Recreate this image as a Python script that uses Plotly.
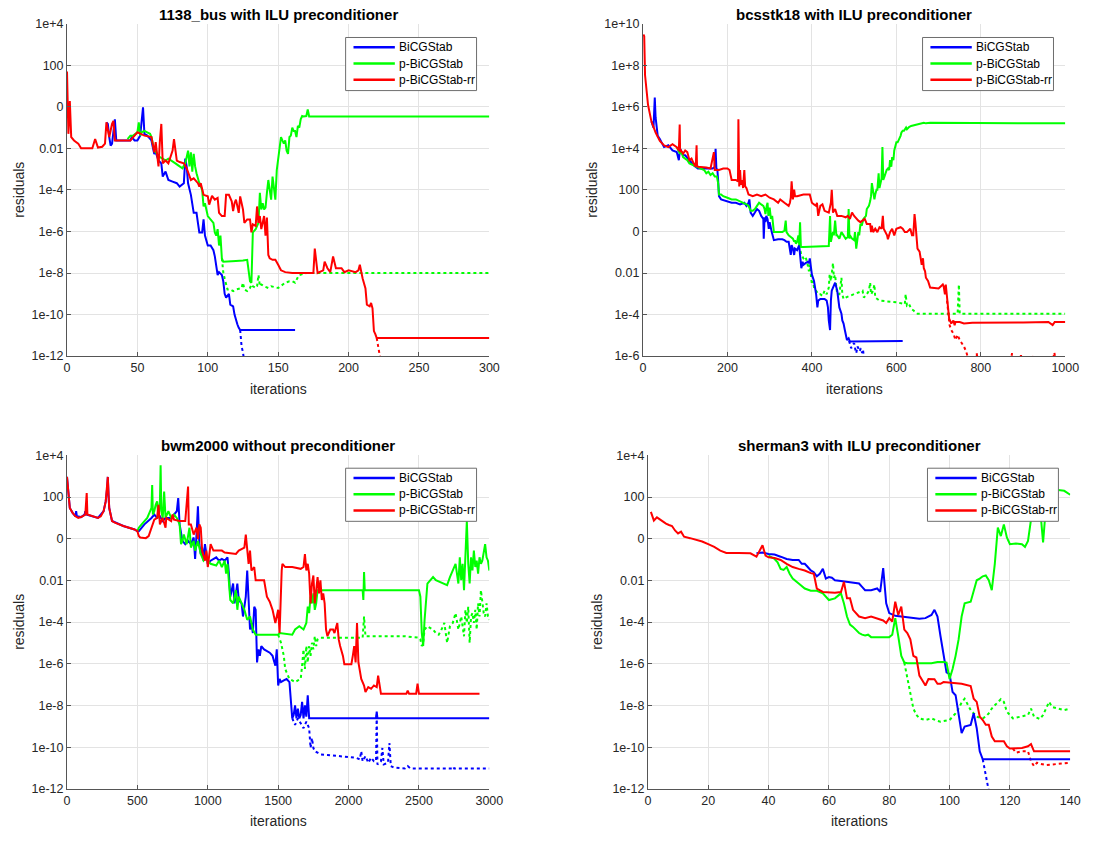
import plotly.graph_objects as go

# ---------------- Panel 1: 1138_bus with ILU preconditioner ----------------
bus_blue_x = [28, 29, 30, 31, 32, 33, 34, 35, 45, 46, 48, 50, 52, 54, 55, 57, 60, 61, 62, 63, 65, 67, 68, 70, 72, 75, 78, 80, 82, 83, 84, 85, 86, 88, 90, 92, 93, 94, 96, 97, 98, 100, 102, 104, 105, 106, 107, 108, 110, 111, 112, 113, 115, 116, 118, 119, 120, 121, 122, 123, 162]
bus_blue_y = [0.18, 0.15, 0.035, 0.0135, 0.017, 0.1, 0.25, 0.024, 0.024, 0.035, 0.024, 0.024, 0.041, 0.95, 0.05, 0.041, 0.024, 0.011, 0.0054, 0.0065, 0.0026, 0.0019, 4.4e-4, 7.6e-4, 3e-4, 2.5e-4, 2.1e-4, 1.45e-4, 1.8e-4, 2.1e-4, 0.0032, 0.00135, 2.1e-4, 5.8e-5, 7.9e-6, 7.9e-6, 2.6e-6, 9e-7, 9e-7, 3.8e-6, 6.3e-7, 2.1e-7, 2.1e-7, 1.25e-7, 6.3e-8, 2.5e-8, 8e-9, 1.1e-8, 8e-9, 4e-9, 1e-9, 6.6e-10, 1e-9, 3e-10, 2.5e-10, 1e-10, 4.9e-11, 3.4e-11, 2.3e-11, 1.8e-11, 1.8e-11]
bus_blue_dot_x = [123, 124, 125, 126]
bus_blue_dot_y = [1.8e-11, 3e-12, 1.5e-12, 5e-13]

bus_green_x = [43, 45, 47, 50, 51, 52, 53, 55, 57, 59, 60, 62, 64, 66, 68, 70, 72, 75, 77, 80, 82, 84, 86, 87, 88, 89, 90, 91, 92, 94, 96, 97, 98, 100, 102, 104, 105, 106, 107, 108, 109, 110, 111, 115, 120, 125, 128, 130, 131, 132, 134, 136, 137, 138, 139, 140, 141, 142, 143, 144, 145, 146, 147, 148, 149, 150, 151, 152, 153, 154, 155, 156, 157, 158, 159, 160, 161, 162, 163, 164, 165, 166, 167, 168, 170, 171, 172, 300]
bus_green_y = [0.028, 0.041, 0.041, 0.059, 0.18, 0.041, 0.059, 0.069, 0.059, 0.05, 0.035, 0.0078, 0.0054, 0.0038, 0.0032, 0.0026, 0.0032, 0.0022, 0.0019, 0.00135, 0.0011, 0.0019, 0.0078, 0.00135, 0.0065, 7.6e-4, 0.0054, 0.00135, 6.3e-4, 2.1e-4, 1e-4, 1.6e-5, 2.3e-5, 5.5e-6, 3.8e-6, 2.6e-6, 9e-7, 6.3e-7, 1.3e-6, 2.1e-7, 6.3e-7, 5.1e-8, 3.5e-8, 3.5e-8, 3.8e-8, 4e-8, 4.3e-8, 4e-9, 3.4e-9, 9e-7, 1.3e-6, 2.6e-6, 7.2e-5, 1.15e-5, 2.3e-5, 1.15e-5, 1.4e-5, 7.2e-5, 3e-4, 1e-4, 3.4e-5, 4.4e-4, 1e-4, 3.4e-5, 9e-4, 0.0038, 0.017, 0.035, 0.024, 0.017, 0.024, 0.0078, 0.0054, 0.035, 0.041, 0.1, 0.069, 0.069, 0.035, 0.12, 0.1, 0.25, 0.36, 0.34, 0.36, 0.74, 0.34, 0.34]
bus_green_dot_x = [110, 111, 112, 113, 114, 116, 118, 120, 124, 125, 126, 128, 130, 131, 132, 134, 135, 136, 137, 138, 140, 143, 145, 150, 153, 155, 158, 160, 162, 163, 164, 165, 167, 170, 300]
bus_green_dot_y = [5.1e-8, 1.1e-8, 5.4e-9, 2.8e-9, 1.6e-9, 1.6e-9, 1.35e-9, 1.6e-9, 1.9e-9, 3.4e-9, 1.6e-9, 1.35e-9, 1.9e-9, 2.8e-9, 2.3e-9, 1.9e-9, 2.3e-9, 8e-9, 2.3e-9, 2.8e-9, 2.3e-9, 1.9e-9, 2.3e-9, 1.9e-9, 2.8e-9, 3.4e-9, 4e-9, 4e-9, 3.4e-9, 4.9e-9, 6.3e-9, 8e-9, 9e-9, 1e-8, 1e-8]

bus_red_x = [0, 1, 2, 3, 5, 7, 8, 10, 18, 20, 22, 25, 27, 28, 30, 32, 33, 34, 40, 45, 50, 55, 60, 62, 63, 65, 66, 67, 68, 70, 72, 75, 76, 78, 80, 83, 85, 88, 90, 93, 94, 95, 97, 100, 101, 103, 105, 107, 108, 110, 112, 113, 115, 117, 118, 119, 120, 122, 123, 125, 126, 128, 130, 131, 132, 134, 135, 136, 137, 138, 139, 140, 141, 142, 143, 144, 146, 148, 150, 152, 155, 160, 175, 176, 178, 182, 183, 185, 187, 189, 191, 195, 197, 200, 205, 207, 208, 209, 210, 212, 213, 215, 216, 217, 218, 219, 220, 300]
bus_red_y = [50, 0.05, 1.9, 0.035, 0.024, 0.02, 0.017, 0.01, 0.01, 0.028, 0.011, 0.012, 0.017, 0.18, 0.035, 0.15, 0.21, 0.024, 0.024, 0.024, 0.059, 0.041, 0.035, 0.0065, 0.02, 0.00135, 0.024, 0.15, 0.0019, 0.0026, 0.0019, 0.0078, 0.028, 0.0026, 0.0022, 0.0019, 0.0011, 3e-4, 3.6e-4, 2.1e-4, 1.45e-4, 2.1e-4, 5.8e-5, 4.9e-5, 1.95e-5, 5.2e-5, 3.4e-5, 4.1e-5, 7.9e-6, 5.5e-6, 5.5e-6, 5.8e-5, 5.8e-5, 2.8e-5, 9.5e-6, 2.3e-5, 3.4e-5, 7.9e-6, 4.9e-5, 1.15e-5, 2.6e-6, 3.8e-6, 3.8e-6, 9e-7, 2.2e-6, 1.85e-6, 1.6e-5, 2.6e-6, 5.5e-6, 1.3e-6, 2.6e-6, 5.5e-6, 6.3e-7, 4.7e-6, 7.4e-8, 5.1e-8, 4.3e-8, 4.3e-8, 2.5e-8, 1.35e-8, 1.1e-8, 1e-8, 1e-8, 1.5e-7, 1e-8, 1.35e-8, 3.5e-8, 1.7e-8, 1.1e-8, 6.3e-8, 1.7e-8, 1.7e-8, 1.1e-8, 1.35e-8, 1.1e-8, 1.35e-8, 2.5e-8, 9e-9, 5.4e-9, 1.8e-9, 3e-10, 2.5e-10, 3.6e-10, 2e-10, 1.6e-11, 1.15e-11, 7.4e-12, 7.4e-12]
bus_red_dot_x = [220, 221, 222, 223]
bus_red_dot_y = [7.4e-12, 2.7e-12, 1e-12, 5e-13]

# ---------------- Panel 2: bcsstk18 with ILU preconditioner ----------------
bcs_blue_x = [20, 25, 28, 30, 35, 40, 50, 60, 70, 80, 85, 87, 90, 95, 100, 110, 120, 130, 165, 170, 172, 174, 176, 178, 180, 185, 190, 200, 210, 220, 230, 240, 245, 250, 252, 255, 260, 265, 270, 275, 280, 285, 286, 288, 290, 292, 295, 298, 300, 305, 310, 320, 330, 335, 340, 345, 348, 350, 352, 355, 358, 360, 365, 370, 372, 375, 378, 380, 385, 390, 393, 395, 398, 400, 405, 410, 413, 415, 420, 430, 435, 438, 440, 443, 445, 447, 450, 455, 458, 460, 465, 470, 472, 475, 478, 480, 483, 487, 490, 615]
bcs_blue_y = [2e5, 1e5, 2.8e6, 3e5, 4e4, 2.8e4, 1.15e4, 1.4e4, 7.9e3, 6.6e3, 2.7e3, 6.6e3, 7.9e3, 4.6e3, 4.6e3, 2.7e3, 1.55e3, 1.07e3, 1.07e3, 1.3e3, 9.5e3, 910, 1.07e3, 300, 50, 35, 32, 29, 24, 24, 20, 24, 17, 24, 35, 8.1, 5.6, 8.1, 12, 9.8, 5.6, 4, 0.45, 4.8, 2.8, 5.6, 4, 1.35, 2.8, 0.93, 0.38, 0.42, 0.42, 0.38, 0.32, 0.32, 0.15, 0.074, 0.22, 0.15, 0.074, 0.15, 0.126, 0.22, 0.074, 0.017, 0.035, 0.025, 0.03, 0.035, 0.03, 0.051, 0.017, 0.0083, 0.0041, 9.5e-4, 2.2e-4, 4.7e-4, 5.6e-4, 5.6e-4, 4.7e-4, 2.2e-4, 5.2e-5, 1.8e-5, 4.7e-4, 0.0014, 0.002, 0.0034, 0.002, 0.0014, 2.2e-4, 1.1e-4, 5.2e-5, 3.7e-5, 1.8e-5, 1.23e-5, 6e-6, 7.2e-6, 5e-6, 5.4e-6]
bcs_blue_dot_x = [488, 490, 493, 497, 500, 503, 505, 508, 510, 513, 516, 519, 521, 524]
bcs_blue_dot_y = [5.4e-6, 4.2e-6, 2.4e-6, 3.5e-6, 4.2e-6, 2e-6, 1.4e-6, 2.9e-6, 2.4e-6, 1.7e-6, 2.4e-6, 1.4e-6, 2e-6, 7e-7]

bcs_green_x = [80, 88, 90, 95, 100, 105, 110, 120, 130, 140, 145, 150, 155, 160, 165, 170, 175, 178, 180, 185, 190, 200, 210, 220, 230, 240, 245, 250, 255, 260, 265, 270, 275, 280, 285, 288, 290, 293, 295, 297, 300, 303, 306, 310, 320, 330, 335, 338, 340, 345, 350, 355, 358, 360, 362, 365, 368, 370, 372, 374, 380, 440, 443, 445, 448, 450, 452, 455, 458, 460, 465, 470, 475, 480, 485, 487, 489, 490, 495, 500, 502, 505, 508, 510, 512, 515, 518, 520, 522, 525, 528, 530, 535, 538, 540, 542, 545, 548, 550, 553, 555, 558, 560, 562, 565, 567, 569, 572, 575, 577, 580, 583, 585, 588, 590, 593, 595, 598, 600, 603, 605, 608, 610, 612, 615, 618, 620, 623, 625, 628, 630, 635, 645, 650, 660, 665, 670, 680, 1000]
bcs_green_y = [1.15e4, 5.5e3, 7.9e3, 3.8e3, 3.2e3, 2.7e3, 1.9e3, 1.55e3, 1.3e3, 1.07e3, 910, 630, 760, 525, 630, 440, 440, 214, 60, 60, 50, 42, 35, 35, 29, 24, 20, 17, 9.8, 9.8, 12, 17, 24, 20, 17, 12, 6.8, 17, 24, 5.6, 14, 4, 5.6, 0.93, 0.93, 0.93, 1.1, 3.3, 0.93, 0.65, 0.54, 0.45, 0.32, 0.38, 0.26, 0.32, 0.65, 0.22, 2.8, 0.18, 0.18, 0.2, 5.6, 0.32, 0.65, 0.93, 0.65, 3.3, 0.65, 0.65, 0.45, 0.93, 0.65, 0.45, 0.54, 12, 0.45, 0.65, 0.45, 0.38, 0.93, 0.15, 0.45, 0.93, 0.65, 2.3, 1.9, 2.8, 4, 4.8, 5.6, 12, 17, 29, 50, 214, 60, 35, 60, 102, 102, 630, 123, 178, 360, 1.15e4, 300, 440, 760, 910, 1.07e3, 910, 2.7e3, 1.3e3, 3.8e3, 2.7e3, 7.9e3, 1.6e4, 1.95e4, 1.95e4, 2.3e4, 3.4e4, 4e4, 5.8e4, 7e4, 7e4, 8.3e4, 1e5, 8.3e4, 1e5, 1.07e5, 1.2e5, 1.35e5, 1.4e5, 1.5e5, 1.7e5, 1.6e5, 1.7e5, 1.6e5]
bcs_green_dot_x = [370, 375, 380, 385, 390, 393, 395, 398, 400, 403, 405, 410, 415, 420, 425, 430, 435, 440, 442, 445, 448, 450, 452, 455, 458, 460, 465, 470, 472, 475, 480, 520, 523, 530, 535, 538, 540, 545, 548, 550, 555, 560, 600, 620, 622, 625, 630, 635, 640, 645, 650, 745, 748, 750, 1000]
bcs_green_dot_y = [0.22, 0.074, 0.051, 0.062, 0.025, 0.012, 0.025, 0.0059, 0.0028, 0.0041, 0.002, 0.0014, 9.5e-4, 9.5e-4, 7.9e-4, 0.0014, 9.5e-4, 0.002, 0.0083, 0.0041, 0.017, 0.03, 0.0059, 0.0083, 0.002, 9.5e-4, 9.5e-4, 0.0059, 9.5e-4, 5.6e-4, 6.6e-4, 0.0014, 6.6e-4, 9.5e-4, 0.0014, 0.0034, 9.5e-4, 0.0014, 0.0028, 6.6e-4, 5.6e-4, 4.7e-4, 3.9e-4, 3.2e-4, 9.5e-4, 2.7e-4, 3.2e-4, 1.9e-4, 1.6e-4, 1.3e-4, 1.1e-4, 1.1e-4, 0.0028, 1.1e-4, 1.1e-4]

bcs_red_x = [1, 3, 5, 8, 12, 20, 30, 40, 50, 60, 70, 80, 85, 87, 88, 90, 95, 100, 105, 110, 115, 120, 125, 127, 128, 130, 140, 150, 160, 168, 170, 180, 190, 200, 205, 210, 220, 225, 226, 227, 228, 230, 232, 235, 237, 240, 242, 245, 250, 260, 270, 280, 290, 300, 310, 320, 325, 335, 340, 345, 348, 350, 352, 355, 358, 360, 365, 380, 395, 400, 405, 410, 412, 415, 420, 425, 430, 440, 445, 447, 450, 455, 460, 470, 480, 485, 490, 495, 500, 505, 510, 515, 520, 525, 530, 538, 540, 542, 545, 550, 555, 560, 565, 568, 570, 575, 578, 580, 585, 590, 595, 600, 610, 615, 620, 625, 633, 637, 640, 642, 643, 645, 647, 650, 655, 660, 663, 665, 668, 670, 675, 678, 680, 700, 705, 710, 712, 715, 717, 720, 722, 725, 730, 735, 738, 740, 750, 760, 780, 850, 900, 960, 970, 975, 1000]
bcs_red_y = [3e9, 2.5e9, 3.3e7, 7.8e6, 1.26e6, 2e5, 5.8e4, 2.3e4, 1.4e4, 1.15e4, 1.6e4, 1.15e4, 7.9e3, 1.4e5, 6.6e3, 7.9e3, 5.5e3, 7.9e3, 6.6e3, 2.7e3, 3.2e3, 1.9e3, 1.3e3, 1.4e4, 1.55e3, 1.3e3, 1.3e3, 1.2e3, 1.07e3, 6.6e3, 910, 910, 1.07e3, 1.07e3, 910, 300, 300, 257, 2.5e5, 214, 148, 910, 178, 300, 123, 910, 148, 123, 60, 50, 60, 50, 60, 42, 35, 24, 35, 24, 20, 17, 24, 42, 257, 35, 102, 50, 50, 60, 60, 24, 20, 17, 24, 5.6, 17, 20, 9.8, 8.1, 24, 102, 8.1, 12, 5.6, 5.6, 4.8, 5.6, 4, 8.1, 5.6, 4, 3.3, 2.8, 3.3, 4, 2.3, 2.3, 0.93, 1.9, 0.93, 1.35, 0.93, 1.6, 1.35, 5.6, 1.35, 0.93, 0.65, 0.42, 0.93, 1.35, 0.65, 1.35, 1.6, 1.35, 0.93, 0.93, 1.35, 0.65, 0.65, 2.8, 6.8, 2.8, 0.65, 0.15, 0.107, 0.025, 0.051, 0.017, 0.012, 0.0059, 0.0041, 0.0023, 0.002, 0.0018, 0.0023, 0.0028, 0.0023, 9.5e-4, 0.0028, 4.7e-4, 1.6e-4, 6.3e-5, 3.7e-5, 5.2e-5, 3.1e-5, 4.4e-5, 4.4e-5, 3.7e-5, 4e-5, 4e-5, 4.2e-5, 4.4e-5, 3.1e-5, 4.4e-5, 4.4e-5]
bcs_red_dot_x = [720, 722, 726, 730, 735, 740, 745, 750, 755, 760, 765, 770, 780, 786, 790, 794, 870, 874, 878, 891, 895, 899, 917, 921, 925, 970, 974, 978, 1000]
bcs_red_dot_y = [4.7e-4, 1.6e-4, 3.1e-5, 1.8e-5, 1.23e-5, 6e-6, 1.05e-5, 6e-6, 4.2e-6, 2.9e-6, 1.7e-6, 8e-7, 5e-7, 5e-7, 1.4e-6, 5e-7, 5e-7, 1.4e-6, 5e-7, 5e-7, 1.1e-6, 5e-7, 5e-7, 1.1e-6, 5e-7, 5e-7, 1.5e-6, 5e-7, 5e-7]

# ---------------- Panel 3: bwm2000 without preconditioner ----------------
bwm_blue_x = [0, 10, 20, 40, 60, 65, 70, 100, 125, 130, 135, 180, 220, 260, 275, 285, 290, 295, 300, 320, 400, 480, 500, 510, 550, 600, 620, 640, 660, 680, 700, 740, 760, 780, 790, 800, 820, 840, 860, 880, 900, 910, 920, 930, 940, 950, 960, 970, 980, 1000, 1020, 1060, 1080, 1100, 1120, 1140, 1150, 1160, 1170, 1180, 1190, 1200, 1210, 1220, 1240, 1250, 1260, 1270, 1280, 1290, 1300, 1310, 1320, 1330, 1340, 1350, 1360, 1370, 1380, 1400, 1440, 1460, 1480, 1490, 1500, 1510, 1520, 1540, 1560, 1580, 1590, 1600, 1610, 1620, 1630, 1640, 1650, 1660, 1670, 1680, 1690, 1700, 1710, 1720, 2195, 2200, 2205, 3000]
bwm_blue_y = [930, 185, 30, 17.5, 12, 21, 12, 11, 14.5, 21, 14.5, 12, 10, 21, 62, 260, 930, 130, 30, 7.1, 4.1, 2.8, 2.3, 2.3, 4.9, 10, 14.5, 10, 12, 7.1, 10, 10, 14.5, 21, 89, 4.9, 0.79, 0.55, 0.79, 0.55, 1.15, 0.107, 1.6, 36, 0.55, 0.186, 0.38, 0.089, 0.55, 0.063, 0.089, 0.129, 0.089, 0.107, 0.089, 0.129, 0.021, 0.00166, 0.0034, 0.0071, 7.9e-4, 0.0024, 0.0071, 0.00115, 7.9e-4, 1.86e-4, 5.5e-4, 0.00166, 0.03, 3.9e-4, 4.4e-5, 9.1e-5, 3e-5, 5.5e-4, 3.9e-4, 1.15e-6, 4.9e-6, 2.4e-6, 7.1e-6, 4.9e-6, 3.4e-6, 2.4e-6, 8.1e-7, 4.9e-6, 9.1e-8, 1.86e-7, 1.32e-7, 1.58e-7, 1.86e-7, 1.32e-7, 2.1e-8, 2.4e-9, 3.5e-9, 1.02e-8, 2.4e-9, 7.1e-9, 2.4e-9, 3.5e-9, 1.48e-8, 2.4e-9, 1.02e-8, 2.9e-9, 3.1e-8, 2.4e-9, 2.4e-9, 5e-9, 2.4e-9, 2.4e-9]
bwm_blue_dot_x = [1600, 1610, 1620, 1640, 1660, 1680, 1700, 1720, 1730, 1740, 1750, 1760, 1780, 1800, 1850, 1950, 2050, 2080, 2090, 2100, 2120, 2140, 2160, 2180, 2195, 2200, 2205, 2230, 2240, 2250, 2280, 2290, 2300, 2320, 2400, 2420, 2440, 2740, 2745, 2750, 3000]
bwm_blue_dot_y = [2.4e-9, 1.66e-9, 1.17e-9, 2.4e-9, 1.38e-9, 8.1e-10, 1.66e-9, 8.1e-10, 9.1e-11, 2.7e-10, 9.1e-11, 6.3e-11, 5.4e-11, 4.5e-11, 4.2e-11, 3.7e-11, 3.1e-11, 2.6e-11, 6.3e-11, 2.1e-11, 3.7e-11, 1.78e-11, 3.1e-11, 2.1e-11, 2.1e-11, 4.2e-9, 1.48e-11, 2.1e-11, 9.1e-11, 1.48e-11, 1.78e-11, 1.58e-10, 1.23e-11, 1.05e-11, 9.5e-12, 1.23e-11, 9.5e-12, 9.3e-12, 1.1e-11, 9.3e-12, 9.3e-12]

bwm_green_x = [500, 510, 530, 550, 570, 600, 605, 610, 620, 630, 640, 650, 660, 665, 670, 680, 690, 700, 720, 740, 760, 780, 800, 810, 820, 830, 850, 870, 880, 900, 910, 930, 950, 970, 990, 1000, 1020, 1060, 1080, 1100, 1120, 1130, 1140, 1160, 1180, 1200, 1210, 1220, 1240, 1260, 1280, 1300, 1320, 1340, 1500, 1510, 1600, 1620, 1650, 1680, 1700, 1710, 1720, 1730, 1740, 1750, 1760, 1770, 1780, 2100, 2105, 2110, 2115, 2500, 2510, 2520, 2530, 2540, 2560, 2580, 2600, 2620, 2650, 2680, 2700, 2720, 2740, 2760, 2780, 2790, 2800, 2810, 2820, 2830, 2840, 2850, 2860, 2870, 2880, 2890, 2900, 2910, 2920, 2930, 2940, 2950, 2960, 2970, 2980, 2990, 3000]
bwm_green_y = [2.3, 3.4, 4.9, 7.1, 10, 30, 380, 14.5, 21, 43, 62, 10, 62, 3400, 21, 10, 185, 10, 21, 10, 14.5, 10, 4.9, 0.55, 0.79, 1.6, 0.55, 3.4, 0.38, 0.79, 0.27, 0.79, 0.186, 0.089, 0.129, 0.089, 0.063, 0.052, 0.089, 0.044, 0.089, 0.021, 0.063, 0.00115, 7.9e-4, 0.0034, 3.9e-4, 0.00166, 7.9e-4, 3.9e-4, 1.29e-4, 1.86e-4, 4.4e-5, 2.5e-5, 2.5e-5, 3e-5, 2.5e-5, 4.4e-5, 6.3e-5, 4.4e-5, 9.1e-5, 5.5e-4, 2.7e-4, 0.00166, 7.9e-4, 0.0024, 3.9e-4, 7.9e-4, 0.0034, 0.0034, 0.00115, 0.025, 0.0034, 0.0034, 0.00166, 3e-5, 7.1e-6, 1.29e-4, 0.0071, 0.0102, 0.0145, 0.0102, 0.0085, 0.0071, 0.006, 0.0145, 0.03, 0.063, 0.0071, 0.129, 0.0102, 0.063, 0.0034, 0.55, 7.1, 0.063, 0.0071, 0.129, 0.03, 0.27, 0.044, 0.089, 0.021, 0.129, 0.063, 0.089, 0.27, 0.55, 0.129, 0.089, 0.03]
bwm_green_dot_x = [1500, 1520, 1540, 1550, 1560, 1580, 1600, 1620, 1640, 1660, 1670, 1680, 1690, 1700, 1710, 1720, 1730, 1740, 1750, 1760, 1770, 1780, 1800, 2100, 2110, 2120, 2400, 2500, 2510, 2520, 2530, 2540, 2560, 2600, 2620, 2640, 2660, 2680, 2700, 2720, 2740, 2760, 2780, 2800, 2820, 2830, 2840, 2850, 2860, 2870, 2880, 2890, 2900, 2910, 2920, 2930, 2940, 2950, 2960, 2970, 2980, 2990, 3000]
bwm_green_dot_y = [2.5e-5, 1.02e-5, 2.4e-6, 5.6e-7, 3.9e-7, 1.86e-7, 1.58e-7, 1.32e-7, 1.58e-7, 1.86e-7, 8.1e-7, 4.9e-6, 5.6e-7, 7.1e-6, 1.15e-6, 7.1e-6, 2.4e-6, 1.02e-5, 4.9e-6, 2.1e-5, 7.1e-6, 1.48e-5, 1.78e-5, 1.78e-5, 1.86e-4, 2.1e-5, 2.1e-5, 1.78e-5, 1.48e-5, 7.1e-6, 1.02e-5, 4.4e-5, 6.3e-5, 4.4e-5, 3e-5, 2.5e-5, 4.4e-5, 9.1e-5, 1.02e-5, 6.3e-5, 9.1e-5, 2.7e-4, 4.4e-5, 1.86e-4, 2.1e-5, 3.9e-4, 9.1e-5, 5.5e-4, 1.02e-5, 1.86e-4, 2.7e-4, 9.1e-5, 3.9e-4, 4.4e-5, 7.9e-4, 1.86e-4, 0.0034, 7.9e-4, 2.7e-4, 1.86e-4, 7.9e-4, 1.86e-4, 1.29e-4]

bwm_red_x = [0, 10, 20, 40, 60, 80, 100, 130, 140, 145, 180, 220, 240, 260, 275, 285, 290, 295, 300, 320, 340, 400, 440, 480, 500, 510, 520, 560, 580, 600, 610, 620, 640, 650, 660, 680, 700, 705, 740, 750, 760, 800, 840, 850, 860, 865, 880, 900, 920, 930, 940, 950, 960, 980, 990, 1000, 1010, 1020, 1040, 1100, 1120, 1200, 1220, 1260, 1270, 1280, 1290, 1300, 1310, 1330, 1340, 1400, 1410, 1420, 1440, 1460, 1480, 1500, 1510, 1515, 1525, 1530, 1550, 1600, 1660, 1680, 1690, 1700, 1710, 1720, 1730, 1740, 1750, 1760, 1770, 1780, 1790, 1800, 1810, 1820, 1830, 1840, 1850, 1870, 1890, 1900, 1920, 1930, 1940, 1960, 1970, 2020, 2030, 2040, 2050, 2060, 2070, 2080, 2090, 2110, 2120, 2140, 2160, 2180, 2200, 2210, 2220, 2230, 2410, 2420, 2430, 2480, 2490, 2500, 2930]
bwm_red_y = [930, 185, 30, 17.5, 12, 10, 11, 14.5, 155, 14.5, 12, 10, 12, 21, 62, 260, 930, 130, 30, 7.1, 5.9, 4.1, 3.4, 2.8, 2.3, 1.35, 1.15, 1.07, 1.35, 3.4, 5.9, 8.3, 10, 43, 4.9, 10, 3.4, 10, 7.1, 14.5, 8.3, 7.1, 7.1, 36, 320, 4.9, 4.9, 1.6, 3.4, 0.96, 4.9, 3.4, 0.27, 0.089, 0.27, 0.044, 0.186, 0.55, 0.27, 0.27, 0.22, 0.186, 0.27, 0.38, 1.6, 0.186, 0.063, 0.27, 0.03, 0.044, 0.0102, 0.0102, 0.0049, 0.00166, 9.5e-4, 3.9e-4, 9.1e-5, 3.9e-4, 3e-5, 7.9e-4, 0.03, 0.063, 0.044, 0.044, 0.036, 0.044, 0.186, 0.03, 0.063, 0.021, 7.9e-4, 0.0071, 0.0174, 7.9e-4, 0.0049, 0.0145, 0.0024, 0.0102, 0.00115, 0.0024, 7.9e-4, 4.4e-5, 2.1e-5, 4.4e-5, 4.4e-5, 3e-5, 9.1e-5, 1.48e-5, 7.1e-6, 2.4e-6, 9.5e-7, 9.5e-7, 2.4e-6, 7.1e-6, 1.15e-6, 9.1e-5, 1.15e-6, 5.6e-7, 1.86e-7, 9.1e-8, 4.4e-8, 7.6e-8, 6.3e-8, 9.1e-8, 7.6e-8, 2.7e-7, 7.6e-8, 3.6e-8, 3.6e-8, 5.2e-8, 3.6e-8, 3.6e-8, 1.1e-7, 3.6e-8, 3.6e-8]

# ---------------- Panel 4: sherman3 with ILU preconditioner ----------------
sh_blue_x = [36, 38, 40, 42, 44, 46, 48, 50, 51, 52, 53, 54, 55, 56, 57, 58, 59, 60, 61, 62, 64, 66, 68, 70, 71, 72, 74, 76, 77, 78, 79, 80, 82, 84, 86, 88, 90, 92, 94, 95, 96, 97, 98, 99, 100, 101, 102, 103, 104, 105, 107, 108, 109, 110, 111, 140]
sh_blue_y = [0.2, 0.22, 0.186, 0.174, 0.138, 0.107, 0.096, 0.096, 0.063, 0.063, 0.044, 0.03, 0.025, 0.0158, 0.021, 0.036, 0.0123, 0.0145, 0.0135, 0.0102, 0.0093, 0.0085, 0.0076, 0.0071, 0.0049, 0.0034, 0.0034, 0.0041, 0.0028, 0.039, 7.9e-4, 2.7e-4, 2e-4, 1.86e-4, 1.66e-4, 1.55e-4, 1.44e-4, 1.55e-4, 2.2e-4, 3.9e-4, 1.86e-4, 2.1e-5, 2.4e-6, 3.9e-7, 3.2e-7, 4.4e-8, 3.1e-8, 3.5e-9, 4.7e-10, 9.8e-10, 1.17e-9, 4.2e-9, 8.1e-10, 6.3e-11, 2.6e-11, 2.6e-11]
sh_blue_dot_x = [111, 112, 113]
sh_blue_dot_y = [2.6e-11, 4e-12, 8e-13]

sh_green_x = [40, 42, 43, 44, 45, 46, 47, 48, 50, 52, 54, 56, 58, 60, 62, 64, 65, 66, 67, 68, 70, 71, 72, 73, 74, 80, 81, 82, 83, 84, 85, 86, 94, 95, 96, 98, 99, 100, 101, 102, 103, 104, 105, 107, 108, 109, 110, 111, 112, 113, 114, 115, 116, 117, 118, 119, 120, 122, 124, 125, 126, 127, 128, 129, 130, 131, 132, 133, 134, 136, 138, 140]
sh_green_y = [0.155, 0.107, 0.074, 0.036, 0.032, 0.044, 0.021, 0.0123, 0.0071, 0.0041, 0.0032, 0.0032, 0.0024, 0.00115, 0.00138, 0.0024, 7.9e-4, 1.86e-4, 7.6e-5, 5.9e-5, 3e-5, 2.5e-5, 2.3e-5, 2.5e-5, 1.9e-5, 1.9e-5, 2.5e-5, 1.55e-4, 2.1e-5, 2.4e-6, 1.15e-6, 1.07e-6, 1.07e-6, 1.15e-6, 1.23e-6, 1.23e-6, 1.15e-6, 1.86e-7, 5.6e-7, 2.4e-6, 1.48e-5, 1.86e-4, 7.9e-4, 9.5e-4, 0.0034, 0.0102, 0.0123, 0.0158, 0.0174, 0.0102, 0.0034, 0.063, 3.4, 1.35, 4.9, 1.15, 0.55, 0.59, 0.55, 0.41, 0.79, 10, 89, 89, 30, 0.66, 43, 185, 220, 220, 200, 130]
sh_green_dot_x = [85, 86, 87, 88, 89, 90, 92, 94, 96, 97, 100, 101, 102, 103, 104, 105, 106, 107, 108, 109, 111, 112, 113, 114, 115, 116, 117, 118, 119, 120, 121, 126, 127, 128, 130, 131, 132, 133, 134, 136, 138, 140]
sh_green_dot_y = [1.15e-6, 1.86e-7, 3.1e-8, 7.1e-9, 3.5e-9, 2.4e-9, 2e-9, 2.4e-9, 1.82e-9, 1.66e-9, 2e-9, 2.9e-9, 4.2e-9, 7.1e-9, 1.38e-8, 2.1e-8, 1.02e-8, 6e-9, 4.2e-9, 2.9e-9, 2.4e-9, 2.9e-9, 4.2e-9, 7.1e-9, 1.02e-8, 1.38e-8, 2e-8, 1.48e-8, 5e-9, 3.5e-9, 2.4e-9, 3.5e-9, 7.1e-9, 2.9e-9, 2.24e-9, 3.5e-9, 7.1e-9, 1.48e-8, 8.5e-9, 7e-9, 6e-9, 7.1e-9]

sh_red_x = [1, 2, 3, 4, 5, 6, 7, 8, 9, 10, 11, 12, 14, 16, 18, 20, 22, 24, 26, 30, 34, 36, 37, 38, 39, 40, 42, 44, 46, 48, 50, 52, 54, 55, 56, 58, 62, 64, 65, 66, 67, 68, 70, 72, 74, 76, 78, 79, 80, 81, 82, 83, 84, 85, 86, 87, 88, 89, 90, 91, 92, 93, 95, 96, 97, 98, 104, 107, 108, 109, 110, 111, 112, 113, 114, 115, 118, 119, 120, 124, 126, 127, 128, 140]
sh_red_y = [19.5, 7.5, 10.7, 8.3, 6.5, 5.3, 4.6, 4.1, 2.5, 1.8, 2.2, 1.26, 1.07, 0.92, 0.74, 0.55, 0.41, 0.27, 0.21, 0.21, 0.2, 0.138, 0.25, 0.49, 0.155, 0.129, 0.12, 0.096, 0.063, 0.044, 0.036, 0.03, 0.0224, 0.021, 0.0041, 0.0028, 0.0026, 0.0028, 0.0085, 0.00138, 0.00138, 3.9e-4, 1.86e-4, 1.55e-4, 1.86e-4, 1.55e-4, 1.2e-4, 9.1e-5, 1.55e-4, 1.07e-4, 9.5e-4, 2.2e-4, 5.5e-4, 4.4e-5, 3e-5, 1.48e-5, 2.4e-6, 2e-6, 2.7e-7, 1.58e-7, 9.1e-8, 1.86e-7, 1.8e-7, 1.1e-7, 1.1e-7, 1.32e-7, 1.1e-7, 8.5e-8, 2.1e-8, 1.48e-8, 2.9e-9, 2e-9, 1.17e-9, 1.17e-9, 3.2e-10, 1.9e-10, 1.9e-10, 1.1e-10, 8.5e-11, 9.1e-11, 1.1e-10, 1.41e-10, 6.3e-11, 6.3e-11]
sh_red_dot_x = [121, 122, 124, 126, 127, 128, 129, 130, 132, 134, 136, 138, 140]
sh_red_dot_y = [8.5e-11, 5.4e-11, 6.3e-11, 6.3e-11, 2.1e-11, 1.23e-11, 1.78e-11, 1.58e-11, 1.38e-11, 1.48e-11, 1.58e-11, 1.78e-11, 1.78e-11]

# ---------------- labels / ticks ----------------
series_names = ["BiCGStab", "p-BiCGStab", "p-BiCGStab-rr"]
series_colors = ["#0000FF", "#00FF00", "#FF0000"]
titles = ["1138_bus with ILU preconditioner", "bcsstk18 with ILU preconditioner",
          "bwm2000 without preconditioner", "sherman3 with ILU preconditioner"]
ytick_vals_a = [1e4, 1e2, 1, 1e-2, 1e-4, 1e-6, 1e-8, 1e-10, 1e-12]
ytick_text_a = ["1e+4", "100", "0", "0.01", "1e-4", "1e-6", "1e-8", "1e-10", "1e-12"]
ytick_vals_b = [1e10, 1e8, 1e6, 1e4, 1e2, 1, 1e-2, 1e-4, 1e-6]
ytick_text_b = ["1e+10", "1e+8", "1e+6", "1e+4", "100", "0", "0.01", "1e-4", "1e-6"]
x_ranges = [[0, 300], [0, 1000], [0, 3000], [0, 140]]
x_dticks = [50, 200, 500, 20]

panels = [
    dict(solid=[(bus_blue_x, bus_blue_y), (bus_green_x, bus_green_y), (bus_red_x, bus_red_y)],
         dots=[(bus_blue_dot_x, bus_blue_dot_y), (bus_green_dot_x, bus_green_dot_y), (bus_red_dot_x, bus_red_dot_y)]),
    dict(solid=[(bcs_blue_x, bcs_blue_y), (bcs_green_x, bcs_green_y), (bcs_red_x, bcs_red_y)],
         dots=[(bcs_blue_dot_x, bcs_blue_dot_y), (bcs_green_dot_x, bcs_green_dot_y), (bcs_red_dot_x, bcs_red_dot_y)]),
    dict(solid=[(bwm_blue_x, bwm_blue_y), (bwm_green_x, bwm_green_y), (bwm_red_x, bwm_red_y)],
         dots=[(bwm_blue_dot_x, bwm_blue_dot_y), (bwm_green_dot_x, bwm_green_dot_y), None]),
    dict(solid=[(sh_blue_x, sh_blue_y), (sh_green_x, sh_green_y), (sh_red_x, sh_red_y)],
         dots=[(sh_blue_dot_x, sh_blue_dot_y), (sh_green_dot_x, sh_green_dot_y), (sh_red_dot_x, sh_red_dot_y)]),
]

W, H = 1099, 843
# plot-area pixel boxes (left, right, top, bottom)
boxes = [(65, 494, 17, 355), (650, 1079, 17, 355), (65, 494, 456, 795), (655, 1084, 456, 795)]
legend_box = [(348, 31), (934, 31), (348, 469), (939, 469)]   # left, top (px)
LEG_W, LEG_H = 133, 54
title_y = [8, 8, 446, 446]
ylabel_x = [16, 598, 16, 603]

FONT = "Liberation Sans, Arial, Helvetica, sans-serif"
fig = go.Figure()

for i, p in enumerate(panels):
    sfx = "" if i == 0 else str(i + 1)
    xa, ya = "x" + sfx, "y" + sfx
    for k, d in enumerate(p["dots"]):
        if d is None:
            continue
        fig.add_trace(go.Scatter(x=d[0], y=d[1], mode="lines", xaxis=xa, yaxis=ya,
                                 line=dict(color=series_colors[k], width=2, dash="dot"),
                                 showlegend=False, hoverinfo="skip"))
    for k, d in enumerate(p["solid"]):
        fig.add_trace(go.Scatter(x=d[0], y=d[1], mode="lines", xaxis=xa, yaxis=ya,
                                 name=series_names[k], showlegend=False,
                                 line=dict(color=series_colors[k], width=2)))

def px(x):
    return x / W

def py(y):
    return 1 - y / H

layout = dict(width=W, height=H, margin=dict(l=0, r=0, t=0, b=0),
              paper_bgcolor="white", plot_bgcolor="white", showlegend=False,
              font=dict(family=FONT, color="#262626"))
annotations = []
shapes = []
for i in range(4):
    sfx = "" if i == 0 else str(i + 1)
    l, r, t, b = boxes[i]
    axis_common = dict(showline=True, linecolor="#555555", linewidth=1, mirror=False,
                       ticks="inside", ticklen=4, tickcolor="#555555",
                       showgrid=True, gridcolor="#e3e3e3", gridwidth=1, zeroline=False,
                       tickfont=dict(family=FONT, size=12.5, color="#262626"))
    layout["xaxis" + sfx] = dict(domain=[px(l), px(r)], range=x_ranges[i], dtick=x_dticks[i], tick0=0,
                                 anchor="y" + sfx, **axis_common)
    if i == 1:
        tv, tt, rg = ytick_vals_b, ytick_text_b, [-6, 10]
    else:
        tv, tt, rg = ytick_vals_a, ytick_text_a, [-12, 4]
    layout["yaxis" + sfx] = dict(domain=[py(b), py(t)], type="log", range=rg, tickvals=tv, ticktext=tt,
                                 anchor="x" + sfx, **axis_common)
    cx = px((l + r) / 2)
    annotations.append(dict(text="<b>" + titles[i] + "</b>", x=cx, y=py(title_y[i]),
                            xref="paper", yref="paper", xanchor="center", yanchor="middle",
                            showarrow=False, font=dict(family=FONT, size=15, color="#000000")))
    annotations.append(dict(text="iterations", x=cx, y=py(b + 33),
                            xref="paper", yref="paper", xanchor="center", yanchor="middle",
                            showarrow=False, font=dict(family=FONT, size=14, color="#262626")))
    annotations.append(dict(text="residuals", x=px(ylabel_x[i]), y=py((t + b) / 2),
                            xref="paper", yref="paper", xanchor="center", yanchor="middle",
                            textangle=-90, showarrow=False,
                            font=dict(family=FONT, size=14, color="#262626")))
    # legend box
    lx, ly = legend_box[i]
    shapes.append(dict(type="rect", xref="paper", yref="paper",
                       x0=px(lx), x1=px(lx + LEG_W), y0=py(ly + LEG_H), y1=py(ly),
                       fillcolor="white", line=dict(color="#6e6e6e", width=1), layer="above"))
    for k in range(3):
        ey = ly + 10 + 16.5 * k
        shapes.append(dict(type="line", xref="paper", yref="paper",
                           x0=px(lx + 8), x1=px(lx + 50), y0=py(ey), y1=py(ey),
                           line=dict(color=series_colors[k], width=2.5), layer="above"))
        annotations.append(dict(text=series_names[k], x=px(lx + 52), y=py(ey),
                                xref="paper", yref="paper", xanchor="left", yanchor="middle",
                                showarrow=False, font=dict(family=FONT, size=12, color="#000000")))
layout["annotations"] = annotations
layout["shapes"] = shapes
fig.update_layout(**layout)
fig.write_html("out.html")
